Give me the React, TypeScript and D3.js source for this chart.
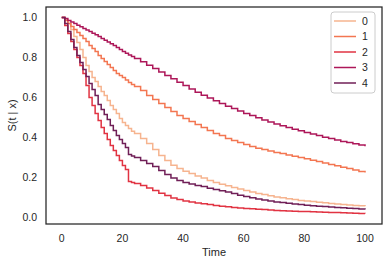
import React from 'react';
import * as d3 from 'd3';

// time grid (dense early, every 2 units later)
const times = [
  0, 1, 2, 3, 4, 5, 6, 7, 8, 9, 10, 11, 12, 13, 14, 15, 16, 17, 18, 19, 20, 21, 22, 23, 24,
  26, 28, 30, 32, 34, 36, 38, 40, 42, 44, 46, 48, 50, 52, 54, 56, 58, 60,
  62, 64, 66, 68, 70, 72, 74, 76, 78, 80, 82, 84, 86, 88, 90, 92, 94, 96, 98, 100,
];

const surv0 = [
  1.0, 0.99, 0.97, 0.94, 0.905, 0.875, 0.84, 0.8, 0.76, 0.73, 0.7, 0.68, 0.655, 0.63, 0.61, 0.585, 0.56, 0.54, 0.52, 0.495, 0.475, 0.46, 0.445, 0.432, 0.42,
  0.395, 0.37, 0.34, 0.31, 0.285, 0.262, 0.245, 0.232, 0.22, 0.208, 0.198, 0.186, 0.176, 0.167, 0.159, 0.151, 0.143, 0.135,
  0.128, 0.121, 0.115, 0.109, 0.103, 0.099, 0.094, 0.09, 0.086, 0.083, 0.08, 0.077, 0.074, 0.071, 0.068, 0.066, 0.063, 0.061, 0.059, 0.057,
];

const surv1 = [
  1.0, 0.985, 0.97, 0.955, 0.94, 0.925, 0.91, 0.895, 0.88, 0.86, 0.845, 0.83, 0.81, 0.795, 0.78, 0.765, 0.75, 0.735, 0.72, 0.71, 0.7, 0.688, 0.676, 0.665, 0.655,
  0.635, 0.61, 0.59, 0.57, 0.55, 0.53, 0.51, 0.495, 0.48, 0.465, 0.45, 0.435, 0.42, 0.41, 0.395, 0.385, 0.375, 0.365,
  0.355, 0.347, 0.34, 0.333, 0.326, 0.32, 0.313, 0.307, 0.3, 0.294, 0.287, 0.28, 0.273, 0.266, 0.259, 0.252, 0.245, 0.238, 0.231, 0.225,
];

const surv2 = [
  1.0, 0.96, 0.92, 0.88, 0.84, 0.8, 0.76, 0.72, 0.66, 0.6, 0.56, 0.52, 0.485, 0.45, 0.42, 0.39, 0.36, 0.335, 0.31, 0.285, 0.26, 0.24, 0.18, 0.175, 0.17,
  0.16, 0.148, 0.135, 0.122, 0.11, 0.098, 0.09, 0.083, 0.078, 0.073, 0.069, 0.065, 0.061, 0.057, 0.054, 0.051, 0.048, 0.046,
  0.044, 0.042, 0.04, 0.038, 0.036, 0.034, 0.033, 0.032, 0.031, 0.03, 0.029, 0.028, 0.027, 0.026, 0.025, 0.024, 0.023, 0.022, 0.021, 0.02,
];

const surv3 = [
  1.0, 0.995, 0.985, 0.978, 0.97, 0.962, 0.954, 0.946, 0.938, 0.93, 0.922, 0.914, 0.905, 0.896, 0.887, 0.878, 0.869, 0.86, 0.85, 0.84, 0.83, 0.822, 0.813, 0.805, 0.796,
  0.779, 0.762, 0.745, 0.728, 0.711, 0.694, 0.677, 0.66, 0.643, 0.627, 0.612, 0.598, 0.584, 0.57, 0.557, 0.545, 0.533, 0.521,
  0.51, 0.499, 0.488, 0.478, 0.468, 0.459, 0.45, 0.442, 0.434, 0.426, 0.418, 0.41, 0.402, 0.395, 0.388, 0.381, 0.375, 0.369, 0.363, 0.357,
];

const surv4 = [
  1.0, 0.97, 0.93, 0.89, 0.85, 0.81, 0.775, 0.74, 0.705, 0.67, 0.64, 0.61, 0.565, 0.54, 0.515, 0.49, 0.46, 0.435, 0.41, 0.39, 0.37, 0.35, 0.315, 0.308, 0.3,
  0.285, 0.27, 0.255, 0.235, 0.215, 0.198, 0.185, 0.175, 0.168, 0.161, 0.155, 0.147, 0.14, 0.134, 0.128, 0.12, 0.112, 0.105,
  0.099, 0.093, 0.088, 0.083, 0.078, 0.075, 0.072, 0.068, 0.065, 0.062, 0.059, 0.057, 0.055, 0.053, 0.051, 0.049, 0.047, 0.045, 0.043, 0.04,
];

const seriesNames = ['0', '1', '2', '3', '4'];
const seriesValues = [surv0, surv1, surv2, surv3, surv4];
const colors = ['#f6b48f', '#f37651', '#e13342', '#ad1759', '#701f57'];

const xTicks = [0, 20, 40, 60, 80, 100];
const yTicks = [0.0, 0.2, 0.4, 0.6, 0.8, 1.0];

const W = 388;
const H = 265;
const margin = { top: 7, right: 6, bottom: 41, left: 46 };
const FONT = '"Liberation Sans", Arial, sans-serif';
const TEXT = '#262626';

const App = () => {
  const innerW = W - margin.left - margin.right;
  const innerH = H - margin.top - margin.bottom;

  const x = d3.scaleLinear().domain([-5.2, 105.6]).range([0, innerW]);
  const y = d3.scaleLinear().domain([-0.032, 1.053]).range([innerH, 0]);

  const line = d3
    .line<number>()
    .x((_, i) => x(times[i]))
    .y(d => y(d))
    .curve(d3.curveStepAfter);

  const legendX = 331 - margin.left;
  const legendY = 12 - margin.top;

  return (
    <svg
      width={W}
      height={H}
      style={{ position: 'absolute', left: 0, top: 0, background: '#fff' }}
      fontFamily={FONT}
    >
      <g transform={`translate(${margin.left},${margin.top})`}>
        {seriesValues.map((vals, i) => (
          <path key={i} d={line(vals) || ''} fill="none" stroke={colors[i]} strokeWidth={1.5} />
        ))}

        <rect
          x={0}
          y={0}
          width={innerW}
          height={innerH}
          fill="none"
          stroke={TEXT}
          strokeWidth={1.25}
        />

        {xTicks.map(t => (
          <text key={t} x={x(t)} y={innerH + 18} textAnchor="middle" fontSize={10.5} fill={TEXT}>
            {t}
          </text>
        ))}
        {yTicks.map(t => (
          <text key={t} x={-9} y={y(t) + 3.8} textAnchor="end" fontSize={10.5} fill={TEXT}>
            {t.toFixed(1)}
          </text>
        ))}

        <text x={innerW / 2} y={innerH + 32} textAnchor="middle" fontSize={11} fill={TEXT}>
          Time
        </text>
        <text
          transform={`translate(${16 - margin.left},${innerH / 2}) rotate(-90)`}
          textAnchor="middle"
          fontSize={11}
          fill={TEXT}
        >
          S(t | x)
        </text>

        <g transform={`translate(${legendX},${legendY})`}>
          <rect x={0} y={0} width={44} height={81} rx={3} fill="#fff" fillOpacity={0.8} stroke="#cccccc" strokeWidth={1} />
          {seriesNames.map((name, i) => (
            <g key={name} transform={`translate(0,${9 + i * 15.5})`}>
              <line x1={3} x2={25} y1={0} y2={0} stroke={colors[i]} strokeWidth={1.5} />
              <text x={31} y={3.8} fontSize={10.5} fill={TEXT}>
                {name}
              </text>
            </g>
          ))}
        </g>
      </g>
    </svg>
  );
};

export default App;
